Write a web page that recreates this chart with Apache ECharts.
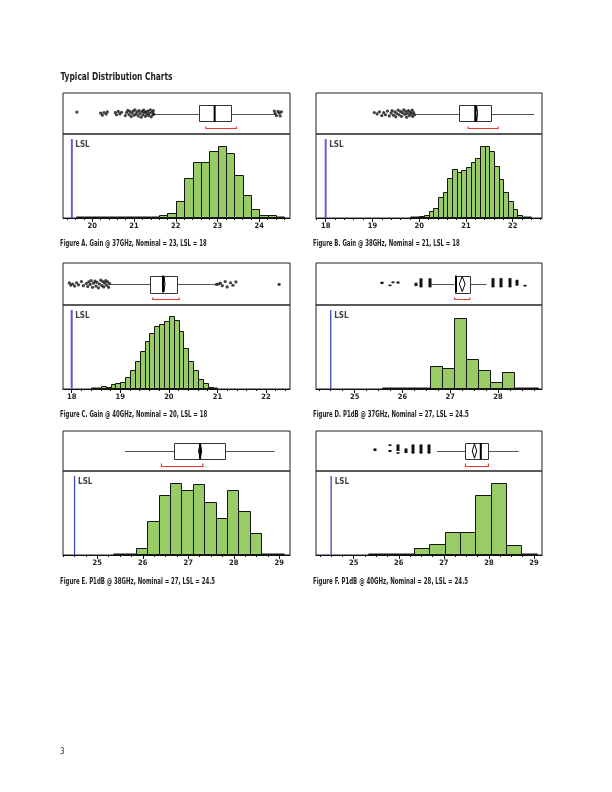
<!DOCTYPE html>
<html><head><meta charset="utf-8">
<script src="https://cdn.jsdelivr.net/npm/echarts@6.0.0/dist/echarts.min.js"></script>
<style>html,body{margin:0;padding:0;background:#fff}#c{width:612px;height:792px}</style>
</head><body><div id="c"></div>
<script>
// ================= DATA =================
const titleText = 'Typical Distribution Charts';
const pageNumber = '3';
const captions = [
  'Figure A. Gain @ 37GHz, Nominal = 23, LSL = 18',
  'Figure B. Gain @ 38GHz, Nominal = 21, LSL = 18',
  'Figure C. Gain @ 40GHz, Nominal = 20, LSL = 18',
  'Figure D. P1dB @ 37GHz, Nominal = 27, LSL = 24.5',
  'Figure E. P1dB @ 38GHz, Nominal = 27, LSL = 24.5',
  'Figure F. P1dB @ 40GHz, Nominal = 28, LSL = 24.5'
];

// Panel A - Gain @ 37GHz
const aBinStart = 19.6, aBinWidth = 0.2;
const aCounts = [1,1,1,1,1,1,1,3,3,3,10,16,50,119,168,168,199,213,193,127,67,28,10,8,2];
const aBox = [21.47, 22.55, 22.93, 23.31, 24.36];      // whisker lo, Q1, median, Q3, whisker hi
const aMean = [22.93, 0];                              // mean, diamond half-width
const aShortHalf = [22.72, 23.45];
const aTicks = [20, 21, 22, 23, 24];
const aLslMark = 19.51;
const aOutliers = [[19.63,0.07],[20.20,0.02],[20.24,-0.08],[20.28,0.05],[20.33,-0.03],[20.36,0.08],
  [20.55,0.04],[20.58,-0.06],[20.62,0.1],[20.66,-0.02],[20.70,0.06],
  [20.79,-0.1],[20.82,0.05],[20.85,0.15],[20.88,-0.05],[20.90,0.1],[20.93,-0.15],[20.95,0.02],[20.98,0.12],
  [21.00,-0.08],[21.02,0.18],[21.05,-0.02],[21.07,0.08],[21.10,-0.12],[21.12,0.14],[21.14,0.0],[21.17,-0.18],
  [21.19,0.1],[21.21,-0.06],[21.23,0.16],[21.25,0.04],[21.27,-0.14],[21.29,0.08],[21.31,-0.04],[21.33,0.12],
  [21.35,-0.1],[21.37,0.02],[21.39,0.18],[21.41,-0.16],[21.43,0.06],[21.45,-0.06],[21.46,0.14],[21.47,-0.02],
  [24.36,0.12],[24.38,0.0],[24.41,-0.1],[24.45,0.1],[24.48,0.02],[24.50,-0.12],[24.53,0.08]];

// Panel B - Gain @ 38GHz
const bBinStart = 19.8, bBinWidth = 0.1;
const bCounts = [3,3,6,8,22,31,62,78,120,145,138,143,153,168,178,213,213,200,156,116,78,50,26,8,2,2];
const bBox = [19.90, 20.85, 21.20, 21.54, 22.46];
const bMean = [21.23, 0.02];
const bShortHalf = [21.05, 21.69];
const bTicks = [18, 19, 20, 21, 22];
const bLslMark = 18;
const bOutliers = [[19.04,0.05],[19.10,-0.02],[19.15,0.08],[19.20,-0.1],[19.24,0.04],[19.28,-0.06],[19.32,0.12],
  [19.36,-0.12],[19.40,0.02],[19.42,0.14],[19.45,-0.08],[19.48,0.08],[19.50,-0.16],[19.52,0.0],[19.55,0.16],
  [19.57,-0.06],[19.60,0.1],[19.62,-0.14],[19.64,0.04],[19.67,0.18],[19.69,-0.04],[19.71,0.1],[19.73,-0.18],
  [19.75,0.0],[19.77,0.14],[19.79,-0.1],[19.81,0.06],[19.83,-0.02],[19.85,0.16],[19.86,-0.14],[19.88,0.04],[19.90,-0.06]];

// Panel C - Gain @ 40GHz
const cBinStart = 18.4, cBinWidth = 0.1;
const cCounts = [2,3,10,7,14,17,22,37,56,85,115,144,169,190,195,205,220,208,174,124,85,56,31,17,7,2];
const cBox = [18.79, 19.62, 19.88, 20.17, 20.95];
const cMean = [19.90, 0.02];
const cShortHalf = [19.67, 20.21];
const cTicks = [18, 19, 20, 21, 22];
const cLslMark = 18;
const cOutliers = [[17.95,0.05],[17.98,-0.05],[18.02,0.0],[18.06,-0.1],[18.10,0.06],[18.14,-0.04],[18.20,0.12],
  [18.24,-0.08],[18.30,0.02],[18.33,-0.12],[18.35,0.1],[18.38,-0.02],[18.40,0.16],[18.43,-0.16],[18.45,0.04],
  [18.48,0.14],[18.50,-0.1],[18.52,0.08],[18.55,-0.18],[18.57,0.0],[18.60,0.18],[18.62,-0.08],[18.64,0.12],
  [18.66,-0.14],[18.68,0.04],[18.70,0.16],[18.72,-0.06],[18.74,0.1],[18.76,-0.16],[18.78,0.02],
  [20.98,-0.02],[21.02,0.0],[21.06,0.04],[21.10,-0.08],[21.16,0.12],[21.20,-0.14],[21.27,0.06],[21.32,-0.06],
  [21.38,0.1],[22.27,-0.02]];

// Panel D - P1dB @ 37GHz
const dBinStart = 25.58, dBinWidth = 0.25;
const dCounts = [1,1,1,2,69,63,216,90,57,21,51,1,1];
const dBox = [26.60, 27.09, 27.12, 27.41, 27.76];
const dMean = [27.25, 0.06];
const dShortHalf = [27.09, 27.41];
const dTicks = [25, 26, 27, 28];
const dLslMark = 24.5;
const dOutlierCols = [[25.57,0,0.11],[25.75,-0.07,-0.03],[25.81,0.04,0.12],[25.91,0.02,0.12],[26.29,-0.1,0.06],
  [26.38,-0.16,0.27],[26.58,-0.16,0.27],[27.89,-0.16,0.28],[28.07,-0.16,0.28],[28.24,-0.16,0.28],
  [28.39,-0.08,0.2],[28.57,-0.12,-0.04]];

// Panel E - P1dB @ 38GHz
const eBinStart = 25.35, eBinWidth = 0.25;
const eCounts = [1,2,21,101,179,215,194,212,158,110,194,131,65,2,1];
const eBox = [25.61, 26.69, 27.26, 27.82, 28.90];
const eMean = [27.26, 0.035];
const eShortHalf = [26.41, 27.32];
const eTicks = [25, 26, 27, 28, 29];
const eLslMark = 24.5;

// Panel F - P1dB @ 40GHz
const fBinStart = 25.32, fBinWidth = 0.34;
const fCounts = [1,1,4,20,34,67,67,179,214,31,1];
const fBox = [26.85, 27.48, 27.82, 27.99, 28.66];
const fMean = [27.68, 0.05];
const fShortHalf = [27.48, 27.99];
const fTicks = [25, 26, 27, 28, 29];
const fLslMark = 24.5;
const fOutlierCols = [[25.47,0,0.13],[25.81,0.25,0.33],[25.81,-0.05,0.05],[25.98,0,0.33],[25.98,-0.14,-0.06],
  [26.15,-0.1,0.13],[26.32,-0.13,0.33],[26.49,-0.13,0.33],[26.66,-0.13,0.33]];

// ================= LAYOUT / STYLE =================
const FONT = '"Liberation Sans Narrow","DejaVu Sans Condensed","Liberation Sans",Arial,sans-serif';
const GREEN = '#99cc66';
const panels = [
  {left:63, width:227, boxTop:93, boxH:41, histTop:134, histH:84, xMin:19.298, xMax:24.735, yMax:250, minor:0.2,
   binStart:aBinStart, binWidth:aBinWidth, counts:aCounts, box:aBox, mean:aMean, sh:aShortHalf, dots:aOutliers, cols:null, ticks:aTicks, lsl:aLslMark, lslColor:'#6262d2', lslWidth:2},
  {left:316, width:226, boxTop:93, boxH:41, histTop:134, histH:84, xMin:17.793, xMax:22.627, yMax:250, minor:0.2,
   binStart:bBinStart, binWidth:bBinWidth, counts:bCounts, box:bBox, mean:bMean, sh:bShortHalf, dots:bOutliers, cols:null, ticks:bTicks, lsl:bLslMark, lslColor:'#6262d2', lslWidth:2},
  {left:63, width:227, boxTop:263, boxH:42, histTop:305, histH:84, xMin:17.821, xMax:22.494, yMax:253, minor:0.2,
   binStart:cBinStart, binWidth:cBinWidth, counts:cCounts, box:cBox, mean:cMean, sh:cShortHalf, dots:cOutliers, cols:null, ticks:cTicks, lsl:cLslMark, lslColor:'#5a5ad0', lslWidth:2},
  {left:316, width:226, boxTop:263, boxH:42, histTop:305, histH:84, xMin:24.192, xMax:28.919, yMax:255, minor:0.25,
   binStart:dBinStart, binWidth:dBinWidth, counts:dCounts, box:dBox, mean:dMean, sh:dShortHalf, dots:null, cols:dOutlierCols, ticks:dTicks, lsl:dLslMark, lslColor:'#3a4cb4', lslWidth:1.3},
  {left:63, width:227, boxTop:431, boxH:40, histTop:471, histH:84, xMin:24.246, xMax:29.235, yMax:251, minor:0.25,
   binStart:eBinStart, binWidth:eBinWidth, counts:eCounts, box:eBox, mean:eMean, sh:eShortHalf, dots:null, cols:null, ticks:eTicks, lsl:eLslMark, lslColor:'#3a4cb4', lslWidth:1.3},
  {left:316, width:226, boxTop:431, boxH:40, histTop:471, histH:84, xMin:24.164, xMax:29.178, yMax:250, minor:0.25,
   binStart:fBinStart, binWidth:fBinWidth, counts:fCounts, box:fBox, mean:fMean, sh:fShortHalf, dots:null, cols:fOutlierCols, ticks:fTicks, lsl:fLslMark, lslColor:'#3a4cb4', lslWidth:1.3}
];
const captionPos = [[60,244,146.7],[313,244,146.7],[60,415,147.3],[313,415,155.7],[60,582,155],[313,582,155]];

const mctx = document.createElement('canvas').getContext('2d');
function fitScale(text, font, target){ mctx.font = font; const w = mctx.measureText(text).width; return w > 0 ? target / w : 1; }
const R = v => Math.round(v) + 0.5;

const option = {animation:false, backgroundColor:'#ffffff', grid:[], xAxis:[], yAxis:[], series:[], graphic:[]};

panels.forEach(p => {
  const g = option.grid.length;
  const gridBase = {show:true, borderColor:'#222', borderWidth:1, backgroundColor:'transparent', containLabel:false, outerBoundsMode:'none'};
  option.grid.push(Object.assign({left:p.left, top:p.boxTop, width:p.width, height:p.boxH}, gridBase));
  option.grid.push(Object.assign({left:p.left, top:p.histTop, width:p.width, height:p.histH}, gridBase));

  const minors = [];
  for (let v = Math.ceil(p.xMin / p.minor) * p.minor; v <= p.xMax; v += p.minor) {
    const r = Math.round(v * 100) / 100;
    if (Math.abs(r - Math.round(r)) > 1e-6) minors.push(r);
  }
  const xb = option.xAxis.length;
  option.xAxis.push({type:'value', gridIndex:g, min:p.xMin, max:p.xMax, show:false});
  option.xAxis.push({type:'value', gridIndex:g+1, min:p.xMin, max:p.xMax, position:'bottom',
    axisLine:{show:true, lineStyle:{color:'#111', width:1}},
    axisTick:{show:true, length:4, customValues:p.ticks, lineStyle:{color:'#111', width:1}},
    axisLabel:{show:true, customValues:p.ticks, margin:4, color:'#222', fontSize:7.5, fontWeight:'bold', fontFamily:FONT},
    splitLine:{show:false}});
  option.xAxis.push({type:'value', gridIndex:g+1, min:p.xMin, max:p.xMax, position:'bottom', offset:0,
    axisLine:{show:false}, axisTick:{show:true, length:2, customValues:minors, lineStyle:{color:'#111', width:1}},
    axisLabel:{show:false}, splitLine:{show:false}});
  const yb = option.yAxis.length;
  option.yAxis.push({type:'value', gridIndex:g, min:-1, max:1, show:false});
  option.yAxis.push({type:'value', gridIndex:g+1, min:0, max:p.yMax, show:false});

  // histogram bars
  option.series.push({type:'custom', xAxisIndex:xb+1, yAxisIndex:yb+1, silent:true, clip:true,
    encode:{x:[0,1], y:2},
    data:p.counts.map((c,k) => [p.binStart + k*p.binWidth, p.binStart + (k+1)*p.binWidth, c]),
    renderItem:(params, api) => {
      const a = api.coord([api.value(0), 0]);
      const b = api.coord([api.value(1), api.value(2)]);
      const x0 = R(a[0]), x1 = R(b[0]), y0 = Math.round(a[1]) - 0.5, y1 = Math.round(b[1]) + 0.5;
      return {type:'rect', shape:{x:x0, y:Math.min(y1, y0 - 0.5), width:x1 - x0, height:Math.max(y0 - y1, 0.5)},
        style:{fill:GREEN, stroke:'#151515', lineWidth:1}};
    }});

  // box plot
  option.series.push({type:'custom', xAxisIndex:xb, yAxisIndex:yb, silent:true,
    encode:{x:[0,4]},
    data:[p.box.concat(p.mean, p.sh)],
    renderItem:(params, api) => {
      const v = i => api.value(i);
      const c = (x, y) => api.coord([x, y]);
      const wl = v(0), q1 = v(1), med = v(2), q3 = v(3), wh = v(4), mean = v(5), ci = v(6), sl = v(7), shh = v(8);
      const yc = R(c(wl, 0)[1]);
      const H = 0.4;
      const kids = [
        {type:'line', shape:{x1:c(wl,0)[0], y1:yc, x2:c(q1,0)[0], y2:yc}, style:{stroke:'#555', lineWidth:1}},
        {type:'line', shape:{x1:c(q3,0)[0], y1:yc, x2:c(wh,0)[0], y2:yc}, style:{stroke:'#555', lineWidth:1}},
        {type:'rect', shape:{x:R(c(q1,0)[0]), y:R(c(q1,H)[1]), width:Math.round(c(q3,0)[0]-c(q1,0)[0]), height:Math.round(c(q1,-H)[1]-c(q1,H)[1])},
          style:{fill:'#fff', stroke:'#333', lineWidth:1}},
        {type:'line', shape:{x1:c(med,0)[0], y1:c(med,H)[1], x2:c(med,0)[0], y2:c(med,-H)[1]}, style:{stroke:'#000', lineWidth:2}}
      ];
      if (ci > 0) {
        kids.push({type:'polygon', shape:{points:[c(mean-ci,0), c(mean,H*0.9), c(mean+ci,0), c(mean,-H*0.9)]},
          style:{fill:'none', stroke:'#000', lineWidth:1}});
      }
      const by = R(c(sl, -0.73)[1]), bt = R(c(sl, -0.6)[1]);
      kids.push({type:'polyline', shape:{points:[[c(sl,0)[0], bt],[c(sl,0)[0], by],[c(shh,0)[0], by],[c(shh,0)[0], bt]]},
        style:{fill:'none', stroke:'#e33b2e', lineWidth:1.2}});
      return {type:'group', children:kids};
    }});

  if (p.dots) {
    option.series.push({type:'scatter', xAxisIndex:xb, yAxisIndex:yb, silent:true, data:p.dots,
      symbol:'circle', symbolSize:3.2, itemStyle:{color:'#111'}});
  }
  if (p.cols) {
    option.series.push({type:'custom', xAxisIndex:xb, yAxisIndex:yb, silent:true, encode:{x:0, y:[1,2]}, data:p.cols,
      renderItem:(params, api) => {
        const a = api.coord([api.value(0), api.value(1)]);
        const b = api.coord([api.value(0), api.value(2)]);
        return {type:'rect', shape:{x:Math.round(a[0]) - 1.5, y:b[1], width:3, height:Math.max(a[1]-b[1], 1.5)}, style:{fill:'#111'}};
      }});
  }
  // LSL line and label
  option.series.push({type:'line', xAxisIndex:xb+1, yAxisIndex:yb+1, silent:true, symbol:'none',
    data:[[p.lsl, 0], [p.lsl, p.yMax*0.94]], lineStyle:{color:p.lslColor, width:p.lslWidth}});
  option.series.push({type:'scatter', xAxisIndex:xb+1, yAxisIndex:yb+1, silent:true,
    data:[[p.lsl, p.yMax*0.87]], symbolSize:1, itemStyle:{color:'rgba(0,0,0,0)'},
    label:{show:true, formatter:'LSL', position:'right', distance:3, color:'#111', fontSize:8, fontWeight:'bold', fontFamily:FONT}});
});

// texts
const titleFont = 'bold 11px ' + FONT;
option.graphic.push({type:'text', x:60.5, y:77, scaleX:fitScale(titleText, titleFont, 112),
  style:{text:titleText, font:titleFont, fill:'#222', align:'left', verticalAlign:'middle'}});
const capFont = 'bold 8.5px ' + FONT;
captions.forEach((t, i) => {
  const [x, y, w] = captionPos[i];
  option.graphic.push({type:'text', x:x, y:y, scaleX:fitScale(t, capFont, w),
    style:{text:t, font:capFont, fill:'#222', align:'left', verticalAlign:'middle'}});
});
option.graphic.push({type:'text', x:60, y:752, style:{text:pageNumber, font:'8px ' + FONT, fill:'#333', align:'left', verticalAlign:'middle'}});

const chart = echarts.init(document.getElementById('c'), null, {renderer:'canvas', width:612, height:792});
chart.setOption(option);
</script>
</body></html>
